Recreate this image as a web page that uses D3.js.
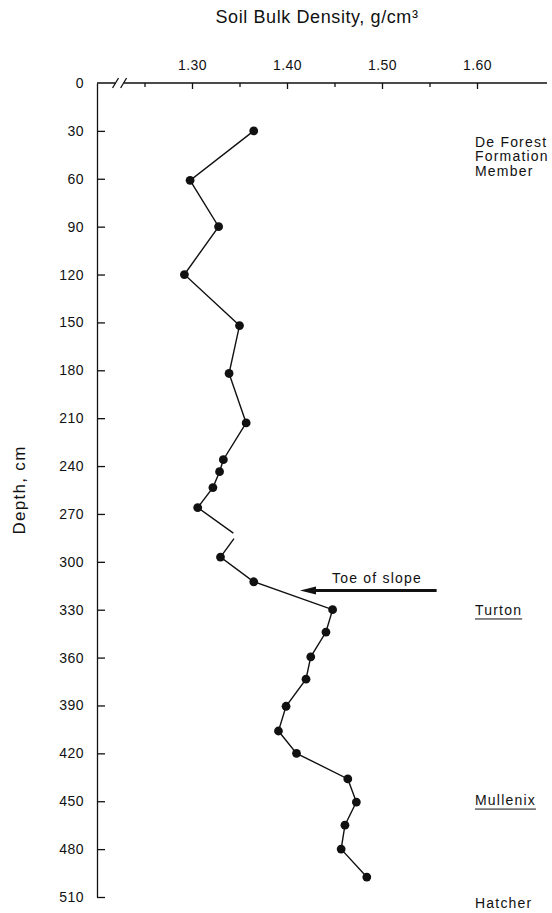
<!DOCTYPE html>
<html>
<head>
<meta charset="utf-8">
<script src="https://cdn.jsdelivr.net/npm/d3@7"></script>
<style>
  body { margin: 0; background: #fff; }
  svg { display: block; font-family: "Liberation Sans", Arial, sans-serif; }
  .axis text { font-size: 14px; fill: #111; letter-spacing: 0.5px; }
  .axis line { stroke: #111; stroke-width: 1.3; }
  .note { font-size: 14px; fill: #111; letter-spacing: 1.2px; }
</style>
</head>
<body>
<svg id="chart" width="552" height="913"></svg>
<script>
// soil bulk density profile
const depth = [30, 61, 90, 120, 152, 182, 213, 236, 243.5, 253.5, 266,
  297, 312.5, 330, 344, 359.5, 373.5, 390.5, 406, 420, 436, 450.5, 465, 480, 497.5];
const density = [1.365, 1.298, 1.328, 1.292, 1.350, 1.339, 1.357, 1.333, 1.329, 1.322, 1.306,
  1.330, 1.365, 1.448, 1.441, 1.425, 1.420, 1.399, 1.391, 1.410, 1.464, 1.473, 1.461, 1.457, 1.484];

// the line is broken between 266 and 297 cm
const breakDepth = [282, 285.5];
const breakDensity = [1.3435, 1.3442];

const depthTicks = d3.range(0, 511, 30);
const majorTicks = [1.30, 1.40, 1.50, 1.60];
const minorTicks = [1.25, 1.35, 1.45, 1.55];
const axisBreak = [1.2195, 1.228];
const axisEnd = 1.6737;

const arrowDepth = 318;
const arrowFrom = 1.5575;
const arrowTo = 1.4137;

const units = ['De Forest', 'Formation', 'Member'];
const unitDepth = 40;
const members = ['Turton', 'Mullenix', 'Hatcher'];
const memberDepth = [333.3, 452.4, 517];
const memberUnderline = [true, true, false];

const svg = d3.select('#chart');

const x = d3.scaleLinear().domain([1.2, 1.6]).range([97, 477]);
const y = d3.scaleLinear().domain([0, 510]).range([83, 897]);

// top axis
const xAxis = svg.append('g')
  .attr('class', 'axis')
  .attr('transform', `translate(0,${y(0)})`);

xAxis.append('g')
  .call(d3.axisTop(x).tickValues(majorTicks).tickSize(-6).tickPadding(13).tickFormat(d3.format('.2f')))
  .call(g => g.select('.domain').remove());

xAxis.append('g')
  .call(d3.axisTop(x).tickValues(minorTicks).tickSize(-4).tickFormat(''))
  .call(g => g.select('.domain').remove());

xAxis.append('path')
  .attr('fill', 'none')
  .attr('stroke', '#111')
  .attr('stroke-width', 1.3)
  .attr('d', `M${x(1.2)},0H${x(axisBreak[0])}M${x(axisBreak[1])},0H${x(axisEnd)}`);

// break marks
xAxis.selectAll('.slash')
  .data(axisBreak)
  .join('line')
  .attr('class', 'slash')
  .attr('x1', d => x(d) - 3)
  .attr('y1', 5)
  .attr('x2', d => x(d) + 3)
  .attr('y2', -5)
  .attr('stroke', '#111')
  .attr('stroke-width', 1.2);

// left axis
svg.append('g')
  .attr('class', 'axis')
  .attr('transform', `translate(${x(1.2)},0)`)
  .call(d3.axisLeft(y).tickValues(depthTicks).tickSize(-8).tickPadding(13).tickSizeOuter(0))
  .call(g => g.select('.domain').attr('stroke', '#111').attr('stroke-width', 1.3))
  .call(g => g.selectAll('.tick').filter(d => d === 0).select('line').remove());

// titles
svg.append('text')
  .attr('x', 317)
  .attr('y', 23)
  .attr('text-anchor', 'middle')
  .style('font-size', '18px')
  .style('letter-spacing', '0.6px')
  .attr('fill', '#111')
  .text('Soil Bulk Density, g/cm³');

svg.append('text')
  .attr('transform', `translate(25,${(y(0) + y(510)) / 2}) rotate(-90)`)
  .attr('text-anchor', 'middle')
  .style('font-size', '17px')
  .style('letter-spacing', '1.3px')
  .attr('fill', '#111')
  .text('Depth, cm');

// profile line
const pts = depth.map((d, i) => ({ depth: d, value: density[i] }));
const brk = breakDepth.map((d, i) => ({ depth: d, value: breakDensity[i] }));
const line = d3.line().x(d => x(d.value)).y(d => y(d.depth));

svg.selectAll('.profile')
  .data([pts.slice(0, 11).concat(brk[0]), [brk[1]].concat(pts.slice(11))])
  .join('path')
  .attr('class', 'profile')
  .attr('fill', 'none')
  .attr('stroke', '#111')
  .attr('stroke-width', 1.4)
  .attr('d', line);

svg.selectAll('.dot')
  .data(pts)
  .join('circle')
  .attr('class', 'dot')
  .attr('cx', d => x(d.value))
  .attr('cy', d => y(d.depth))
  .attr('r', 4.4)
  .attr('fill', '#111');

// toe of slope arrow
const ay = y(arrowDepth);
svg.append('line')
  .attr('x1', x(arrowFrom))
  .attr('x2', x(arrowTo) + 12)
  .attr('y1', ay)
  .attr('y2', ay)
  .attr('stroke', '#111')
  .attr('stroke-width', 3);

svg.append('path')
  .attr('fill', '#111')
  .attr('d', `M${x(arrowTo)},${ay}L${x(arrowTo) + 16},${ay - 4}L${x(arrowTo) + 16},${ay + 4}Z`);

svg.append('text')
  .attr('class', 'note')
  .attr('x', x(arrowTo) + 32)
  .attr('y', ay - 8)
  .text('Toe of slope');

// stratigraphic labels
svg.append('text')
  .attr('class', 'note')
  .attr('y', y(unitDepth))
  .selectAll('tspan')
  .data(units)
  .join('tspan')
  .attr('x', 475)
  .attr('dy', (d, i) => i === 0 ? 0 : 14.5)
  .text(d => d);

const mem = svg.selectAll('.member')
  .data(members)
  .join('g')
  .attr('class', 'member');

mem.append('text')
  .attr('class', 'note')
  .attr('x', 475)
  .attr('y', (d, i) => y(memberDepth[i]))
  .text(d => d);

mem.filter((d, i) => memberUnderline[i])
  .append('line')
  .attr('x1', 475)
  .attr('x2', function() { return 475 + this.parentNode.querySelector('text').getComputedTextLength(); })
  .attr('y1', (d) => y(memberDepth[members.indexOf(d)]) + 4)
  .attr('y2', (d) => y(memberDepth[members.indexOf(d)]) + 4)
  .attr('stroke', '#111')
  .attr('stroke-width', 1);
</script>
</body>
</html>
